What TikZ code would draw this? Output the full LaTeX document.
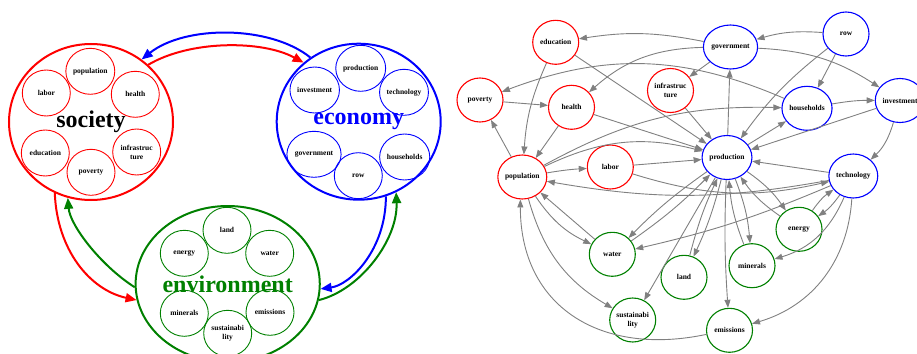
\documentclass[tikz,border=0pt]{standalone}
\usepackage{fontspec}
\setmainfont{Liberation Serif}
\usetikzlibrary{arrows.meta,shapes.geometric}
\definecolor{egreen}{RGB}{0,128,0}
\definecolor{egray}{RGB}{128,128,128}
\begin{document}
\begin{tikzpicture}[x=1pt,y=1pt,
  big/.style={ellipse,draw,line width=2pt,minimum width=164pt,minimum height=156pt,inner sep=0pt,font=\fontsize{24}{28}\selectfont\bfseries},
  sm/.style={ellipse,draw,line width=0.9pt,minimum width=48pt,minimum height=46pt,inner sep=0pt,align=center,font=\fontsize{7.5}{9}\selectfont\bfseries},
  gn/.style={ellipse,draw,line width=1.1pt,minimum width=46pt,minimum height=44pt,inner sep=0pt,align=center,font=\fontsize{7.5}{9}\selectfont\bfseries},
  flow/.style={line width=2pt,-{Triangle[length=11pt,width=9pt]}},
  edge/.style={draw=egray,line width=0.9pt,-{Triangle[length=8pt,width=6pt]}}
]
\useasboundingbox (0,0) rectangle (917,-353);

% ---------- left: big systems ----------
\node[big,draw=red,text=black] (soc) at (91,-122) {society};
\node[big,draw=blue,text=blue] (eco) at (358.7,-121.7) {economy};
\node[big,draw=egreen,text=egreen] (env) at (227.7,-284) {environment};

\node[sm,draw=red] (sp) at (90.3,-71.3) {population};
\node[sm,draw=red] (sl) at (46.3,-93) {labor};
\node[sm,draw=red] (sh) at (135.3,-94.3) {health};
\node[sm,draw=red] (se) at (45.3,-153) {education};
\node[sm,draw=red] (sv) at (91,-172.3) {poverty};
\node[sm,draw=red] (si) at (136.7,-152) {infrastruc\\ture};

\node[sm,draw=blue] (ep) at (360.7,-68.3) {production};
\node[sm,draw=blue] (ei) at (314.7,-90) {investment};
\node[sm,draw=blue] (et) at (404,-92.3) {technology};
\node[sm,draw=blue] (eg) at (314,-154.3) {government};
\node[sm,draw=blue] (er) at (358.3,-175.7) {row};
\node[sm,draw=blue] (eh) at (404.7,-157) {households};

\node[sm,draw=egreen] (nl) at (227,-230.3) {land};
\node[sm,draw=egreen] (ne) at (184.3,-253.3) {energy};
\node[sm,draw=egreen] (nw) at (269.7,-253.3) {water};
\node[sm,draw=egreen] (nm) at (184.3,-313.3) {minerals};
\node[sm,draw=egreen] (nx) at (270,-312.3) {emissions};
\node[sm,draw=egreen] (ns) at (227.7,-333.3) {sustainabi\\lity};

\draw[flow,blue] (eco.127) .. controls (270,-25) and (185,-25) .. (soc.51);
\draw[flow,red] (soc.45) .. controls (190,-40) and (262,-40) .. (eco.133.5);
\draw[flow,red] (soc.243.7) .. controls (57,-250) and (90,-290) .. (env.190);
\draw[flow,egreen] (env.182.4) .. controls (100,-265) and (70,-225) .. (soc.253.4);
\draw[flow,blue] (eco.290.5) .. controls (386,-250) and (350,-285) .. (env.357.7);
\draw[flow,egreen] (env.350) .. controls (360,-290) and (398,-240) .. (eco.298.6);

% ---------- right: network ----------
\node[gn,draw=red] (edu) at (555.7,-42.3) {education};
\node[gn,draw=red] (pov) at (480,-100) {poverty};
\node[gn,draw=red] (hea) at (571.5,-107.3) {health};
\node[gn,draw=red] (inf) at (670.5,-90.5) {infrastruc\\ture};
\node[gn,draw=red] (pop) at (522.3,-177) {population};
\node[gn,draw=red] (lab) at (610.3,-167) {labor};
\node[gn,draw=blue] (gov) at (730.5,-47) {government};
\node[gn,draw=blue] (row) at (846,-34) {row};
\node[gn,draw=blue] (hou) at (807,-108.3) {households};
\node[gn,draw=blue] (inv) at (900,-100.5) {investment};
\node[gn,draw=blue] (pro) at (727,-157.5) {production};
\node[gn,draw=blue] (tec) at (853.3,-176) {technology};
\node[gn,draw=egreen] (wat) at (612.3,-254.3) {water};
\node[gn,draw=egreen] (lan) at (684,-277.3) {land};
\node[gn,draw=egreen] (min) at (752,-265.7) {minerals};
\node[gn,draw=egreen] (ene) at (799,-229.3) {energy};
\node[gn,draw=egreen] (sus) at (632.7,-320) {sustainabi\\lity};
\node[gn,draw=egreen] (emi) at (729.5,-330.3) {emissions};

\draw[edge] (gov) to[bend right=10] (edu);
\draw[edge] (gov) to[bend right=20] (hea);
\draw[edge] (gov) -- (inf);
\draw[edge] (row) to[bend right=10] (gov);
\draw[edge] (row) -- (hou);
\draw[edge] (row) to[bend right=8] (pro);
\draw[edge] (pro) -- (gov);
\draw[edge] (gov) to[bend left=15] (inv);
\draw[edge] (hou) to[bend left=5] (inv);
\draw[edge] (hou) to[bend right=22] (pov);
\draw[edge] (edu) -- (pro);
\draw[edge] (edu) to[bend right=10] (pop);
\draw[edge] (pov) -- (hea);
\draw[edge] (hea) -- (pop);
\draw[edge] (pop) -- (pov);
\draw[edge] (hea) -- (pro);
\draw[edge] (inf) -- (pro);
\draw[edge] (pop) to[bend left=3] (lab);
\draw[edge] (pop) to[bend left=15] (hou);
\draw[edge] (pop) to[bend left=20] (pro);
\draw[edge] (lab) -- (pro);
\draw[edge] (lab) to[bend right=15] (tec);
\draw[edge] (tec) to[bend left=10] (pop);
\draw[edge] (tec) to[bend left=5] (wat);
\draw[edge] (inv) -- (pro);
\draw[edge] (inv) to[bend left=15] (tec);
\draw[edge] (tec) -- (pro);
\draw[edge] (pro) -- (hou);
\draw[edge] (pro) to[bend right=5] (wat);
\draw[edge] (wat) to[bend right=5] (pro);
\draw[edge] (pro) to[bend left=5] (lan);
\draw[edge] (lan) to[bend left=5] (pro);
\draw[edge] (pro) -- (sus);
\draw[edge] (pro) to[bend right=3] (emi);
\draw[edge] (pro) to[bend left=8] (min);
\draw[edge] (min) to[bend left=8] (pro);
\draw[edge] (pro) to[bend left=10] (ene);
\draw[edge] (ene) to[bend left=10] (pro);
\draw[edge] (tec) to[bend left=10] (ene);
\draw[edge] (ene) to[bend left=10] (tec);
\draw[edge] (tec) to[bend left=25] (min);
\draw[edge] (tec) to[bend left=35] (emi);
\draw[edge] (pop) to[bend right=15] (wat);
\draw[edge] (wat) -- (pop);
\draw[edge] (pop) to[bend right=22] (sus);
\draw[edge] (emi.190) to[out=192,in=270,looseness=1.2] (pop.265);
\end{tikzpicture}
\end{document}
